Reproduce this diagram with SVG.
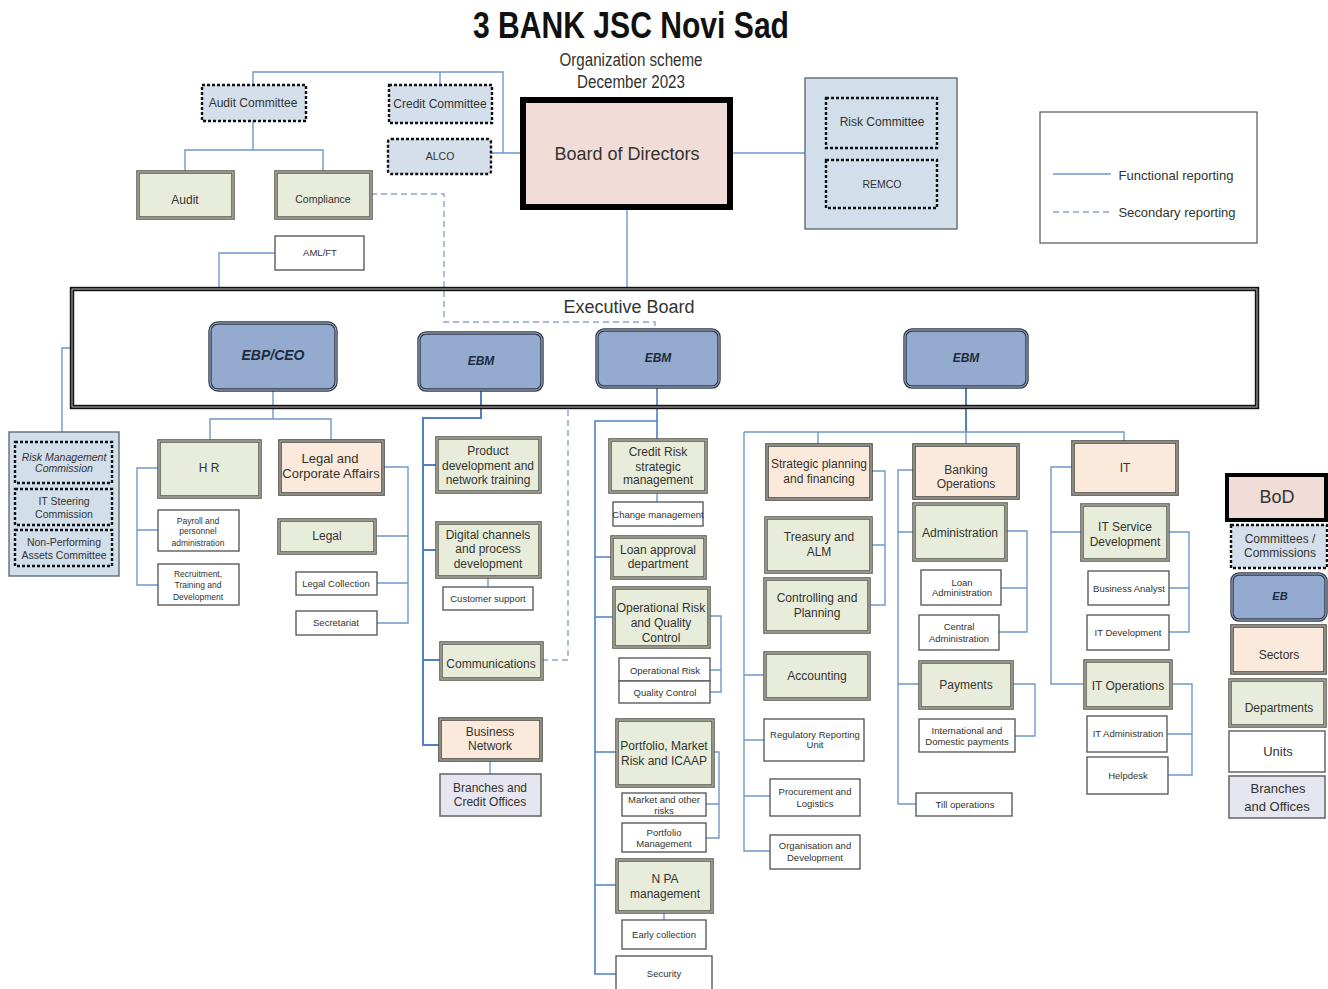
<svg xmlns="http://www.w3.org/2000/svg" width="1328" height="989" viewBox="0 0 1328 989">
<style>
text{font-family:"Liberation Sans",Arial,sans-serif;text-anchor:middle;fill:#33332f}
.c{fill:none;stroke:#6f98cc;stroke-width:1.4}
.ct{stroke-width:2;stroke:#4f80c4}
.s{fill:none;stroke:#8ea3c8;stroke-width:1.4;stroke-dasharray:6 4}
.d{fill:#e8eddb;stroke:#5e5e54;stroke-width:3.6}
.o{fill:#fbe9dc;stroke:#4c4a46;stroke-width:3.6}
.i{fill:none;stroke:#c9cabb;stroke-width:1}
.u{fill:#fff;stroke:#5c5c5c;stroke-width:1.4}
.k{fill:#d5dfec;stroke:#111;stroke-width:2.4;stroke-dasharray:3 2}
.kn{fill:none;stroke:#111;stroke-width:2.4;stroke-dasharray:3 2}
.g{fill:#d3deeb;stroke:#5f6d76;stroke-width:1.4}
.b{fill:#e5e6f0;stroke:#6b6b70;stroke-width:1.6}
.e{fill:#94abcf;stroke:#2f3a4a;stroke-width:3.4}
.ei{fill:none;stroke:#b8c6dc;stroke-width:.9}
.t8{font-size:8.5px}.t9{font-size:9.5px}.t10{font-size:10.5px}.t12{font-size:12px}.t13{font-size:13px}
.em{font-weight:bold;font-style:italic;fill:#1d2b40}
</style>

<text x="631" y="38" font-size="36" font-weight="bold" textLength="316" lengthAdjust="spacingAndGlyphs" style="fill:#111">3 BANK JSC Novi Sad</text>
<text x="631" y="66" font-size="18" textLength="143" lengthAdjust="spacingAndGlyphs">Organization scheme</text>
<text x="631" y="88" font-size="18" textLength="108" lengthAdjust="spacingAndGlyphs">December 2023</text>

<g id="connectors">
<path class="c" d="M253 85V72H503V153M440 72V85M491 153H523M253 121V150M185 171V150H323V171M275 253H219V288M627 208V288M731 153H805M72 348H62V432"/>
<path class="s" d="M371 194H444V322H655V329"/>
<path class="s" d="M542 660H568V407"/>
<path class="c" d="M273 390V419M210 440V419H331V440M159 468H137V585H158M137 530H158M383 467H408V623H377M375 536H408M377 583H408"/>
<path class="c ct" d="M481 390V418H423V745H439M423 465H436M423 550H436M423 660H440"/>
<path class="c" d="M488 577V587M490 760V774"/>
<path class="c ct" style="stroke-width:1.6" d="M657 387V439M657 421H595V974H616M595 557H611M595 617H613M595 752H616M595 885H616"/>
<path class="c" d="M657 492V502M664 912V920M709 616H721V692H710M710 670H721M713 752H719V838H706M706 804H719"/>
<path class="c ct" d="M966 387V432"/>
<path class="c" d="M966 432V445M744 432H1124V441M818 432V444M744 432V851H770M744 675H764M744 740H764M744 796H770M871 471H885V605H869M871 545H885"/>
<path class="c" d="M913 470H898V804H916M898 532H913M898 684H919M1006 531H1027V632H999M1001 588H1027M1012 684H1035V736H1015"/>
<path class="c" d="M1072 467H1051V684H1084M1051 532H1081M1168 532H1189V632H1169M1169 588H1189M1171 684H1192V775H1168M1167 734H1192"/>
</g>

<g id="audit-committee"><rect class="k" x="202" y="85" width="104" height="36"/><text class="t12" x="253" y="107">Audit Committee</text></g>
<g id="credit-committee"><rect class="k" x="389" y="85" width="103" height="38"/><text class="t12" x="440" y="108">Credit Committee</text></g>
<g id="alco"><rect class="k" x="388" y="139" width="103" height="35" rx="3"/><text class="t10" x="440" y="160">ALCO</text></g>
<g id="audit"><rect class="d" x="138" y="172" width="95" height="46"/><rect class="i" x="138" y="172" width="95" height="46"/><text class="t12" x="185" y="204">Audit</text></g>
<g id="compliance"><rect class="d" x="276" y="172" width="95" height="46"/><rect class="i" x="276" y="172" width="95" height="46"/><text class="t10" x="323" y="203">Compliance</text></g>
<g id="amlft"><rect class="u" x="275" y="236" width="89" height="34"/><text class="t9" x="320" y="256">AML/FT</text></g>

<g id="board"><rect x="523" y="100" width="207" height="107" fill="#f1dcd8" stroke="#000" stroke-width="6"/><text x="627" y="160" font-size="18">Board of Directors</text></g>
<g id="risk-group"><rect class="g" x="805" y="78" width="152" height="151"/>
<rect class="kn" x="826" y="98" width="111" height="50"/><text class="t12" x="882" y="126">Risk Committee</text>
<rect class="kn" x="826" y="160" width="111" height="48"/><text class="t10" x="882" y="188">REMCO</text></g>
<g id="key"><rect x="1040" y="112" width="217" height="131" fill="#fff" stroke="#555" stroke-width="1.2"/>
<path class="c" d="M1053 174H1111"/><path class="s" d="M1053 212H1113"/>
<text class="t13" x="1176" y="180">Functional reporting</text><text class="t13" x="1177" y="217">Secondary reporting</text></g>

<g id="executive-board"><rect x="72" y="289" width="1185" height="118" fill="none" stroke="#111" stroke-width="4.4"/><rect x="72" y="289" width="1185" height="118" fill="none" stroke="#bbb" stroke-width="1"/><text x="629" y="313" font-size="18">Executive Board</text></g>
<g id="ebp-ceo"><rect class="e" x="210" y="323" width="126" height="67" rx="8"/><rect class="ei" x="210" y="323" width="126" height="67" rx="8"/><text class="em" x="273" y="360" font-size="14">EBP/CEO</text></g>
<g id="ebm-1"><rect class="e" x="419" y="333" width="123" height="57" rx="7"/><rect class="ei" x="419" y="333" width="123" height="57" rx="7"/><text class="em" x="481" y="365" font-size="12">EBM</text></g>
<g id="ebm-2"><rect class="e" x="597" y="330" width="122" height="57" rx="7"/><rect class="ei" x="597" y="330" width="122" height="57" rx="7"/><text class="em" x="658" y="362" font-size="12">EBM</text></g>
<g id="ebm-3"><rect class="e" x="905" y="330" width="122" height="57" rx="7"/><rect class="ei" x="905" y="330" width="122" height="57" rx="7"/><text class="em" x="966" y="362" font-size="12">EBM</text></g>

<g id="risk-commissions"><rect class="g" x="9" y="432" width="110" height="144"/>
<rect class="kn" x="15" y="442" width="97" height="41"/><text class="t10" x="64" y="461" font-style="italic">Risk Management</text><text class="t10" x="64" y="472" font-style="italic">Commission</text>
<rect class="kn" x="15" y="489" width="97" height="36"/><text class="t10" x="64" y="505">IT Steering</text><text class="t10" x="64" y="518">Commission</text>
<rect class="kn" x="15" y="530" width="97" height="36"/><text class="t10" x="64" y="546">Non-Performing</text><text class="t10" x="64" y="559">Assets Committee</text></g>

<g id="hr"><rect class="d" x="159" y="441" width="101" height="56"/><rect class="i" x="159" y="441" width="101" height="56"/><text class="t12" x="209" y="472">H R</text></g>
<g id="legal-corporate"><rect class="o" x="280" y="441" width="103" height="53"/><rect class="i" x="280" y="441" width="103" height="53"/><text class="t13" x="330" y="463">Legal and</text><text class="t13" x="331" y="478">Corporate Affairs</text></g>
<g id="payroll"><rect class="u" x="158" y="510" width="81" height="41"/><text class="t8" x="198" y="524">Payroll and</text><text class="t8" x="198" y="534">personnel</text><text class="t8" x="198" y="546">administration</text></g>
<g id="recruitment"><rect class="u" x="158" y="564" width="81" height="41"/><text class="t8" x="198" y="577">Recruitment,</text><text class="t8" x="198" y="588">Training and</text><text class="t8" x="198" y="600">Development</text></g>
<g id="legal"><rect class="d" x="279" y="520" width="96" height="33"/><rect class="i" x="279" y="520" width="96" height="33"/><text class="t12" x="327" y="540">Legal</text></g>
<g id="legal-collection"><rect class="u" x="296" y="572" width="81" height="23"/><text class="t9" x="336" y="587">Legal Collection</text></g>
<g id="secretariat"><rect class="u" x="296" y="611" width="81" height="24"/><text class="t9" x="336" y="626">Secretariat</text></g>

<g id="product"><rect class="d" x="437" y="438" width="103" height="54"/><rect class="i" x="437" y="438" width="103" height="54"/><text class="t12" x="488" y="455">Product</text><text class="t12" x="488" y="470">development and</text><text class="t12" x="488" y="484">network training</text></g>
<g id="digital"><rect class="d" x="437" y="523" width="103" height="54"/><rect class="i" x="437" y="523" width="103" height="54"/><text class="t12" x="488" y="539">Digital channels</text><text class="t12" x="488" y="553">and process</text><text class="t12" x="488" y="568">development</text></g>
<g id="customer-support"><rect class="u" x="443" y="587" width="90" height="23"/><text class="t9" x="488" y="602">Customer support</text></g>
<g id="communications"><rect class="d" x="441" y="643" width="101" height="36"/><rect class="i" x="441" y="643" width="101" height="36"/><text class="t12" x="491" y="668">Communications</text></g>
<g id="business-network"><rect class="o" x="440" y="719" width="101" height="41"/><rect class="i" x="440" y="719" width="101" height="41"/><text class="t12" x="490" y="736">Business</text><text class="t12" x="490" y="750">Network</text></g>
<g id="branches-credit"><rect class="b" x="440" y="774" width="101" height="42"/><text class="t12" x="490" y="792">Branches and</text><text class="t12" x="490" y="806">Credit Offices</text></g>

<g id="credit-risk"><rect class="d" x="610" y="440" width="96" height="52"/><rect class="i" x="610" y="440" width="96" height="52"/><text class="t12" x="658" y="456">Credit Risk</text><text class="t12" x="658" y="471">strategic</text><text class="t12" x="658" y="484">management</text></g>
<g id="change-management"><rect class="u" x="613" y="502" width="90" height="24"/><text class="t9" x="658" y="518">Change management</text></g>
<g id="loan-approval"><rect class="d" x="612" y="537" width="93" height="41"/><rect class="i" x="612" y="537" width="93" height="41"/><text class="t12" x="658" y="554">Loan approval</text><text class="t12" x="658" y="568">department</text></g>
<g id="operational-quality"><rect class="d" x="614" y="588" width="95" height="59"/><rect class="i" x="614" y="588" width="95" height="59"/><text class="t12" x="661" y="612">Operational Risk</text><text class="t12" x="661" y="627">and Quality</text><text class="t12" x="661" y="642">Control</text></g>
<g id="operational-risk"><rect class="u" x="619" y="658" width="91" height="23"/><text class="t9" x="665" y="674">Operational Risk</text></g>
<g id="quality-control"><rect class="u" x="619" y="681" width="91" height="22"/><text class="t9" x="665" y="696">Quality Control</text></g>
<g id="portfolio-market"><rect class="d" x="617" y="720" width="96" height="66"/><rect class="i" x="617" y="720" width="96" height="66"/><text class="t12" x="664" y="750">Portfolio, Market</text><text class="t12" x="664" y="765">Risk and ICAAP</text></g>
<g id="market-risks"><rect class="u" x="622" y="793" width="84" height="23"/><text class="t9" x="664" y="803">Market and other</text><text class="t9" x="664" y="814">risks</text></g>
<g id="portfolio-management"><rect class="u" x="622" y="823" width="84" height="29"/><text class="t9" x="664" y="836">Portfolio</text><text class="t9" x="664" y="847">Management</text></g>
<g id="npa"><rect class="d" x="617" y="860" width="95" height="52"/><rect class="i" x="617" y="860" width="95" height="52"/><text class="t12" x="665" y="883">N PA</text><text class="t12" x="665" y="898">management</text></g>
<g id="early-collection"><rect class="u" x="622" y="920" width="84" height="29"/><text class="t9" x="664" y="938">Early collection</text></g>
<g id="security"><rect class="u" x="616" y="956" width="96" height="36"/><text class="t9" x="664" y="977">Security</text></g>

<g id="strategic"><rect class="o" x="767" y="445" width="104" height="54"/><rect class="i" x="767" y="445" width="104" height="54"/><text class="t12" x="819" y="468">Strategic planning</text><text class="t12" x="819" y="483">and financing</text></g>
<g id="treasury"><rect class="d" x="766" y="518" width="105" height="54"/><rect class="i" x="766" y="518" width="105" height="54"/><text class="t12" x="819" y="541">Treasury and</text><text class="t12" x="819" y="556">ALM</text></g>
<g id="controlling"><rect class="d" x="765" y="579" width="104" height="53"/><rect class="i" x="765" y="579" width="104" height="53"/><text class="t12" x="817" y="602">Controlling and</text><text class="t12" x="817" y="617">Planning</text></g>
<g id="accounting"><rect class="d" x="765" y="653" width="104" height="46"/><rect class="i" x="765" y="653" width="104" height="46"/><text class="t12" x="817" y="680">Accounting</text></g>
<g id="regulatory"><rect class="u" x="764" y="719" width="100" height="42"/><text class="t9" x="815" y="738">Regulatory Reporting</text><text class="t9" x="815" y="748">Unit</text></g>
<g id="procurement"><rect class="u" x="770" y="779" width="90" height="37"/><text class="t9" x="815" y="795">Procurement and</text><text class="t9" x="815" y="807">Logistics</text></g>
<g id="organisation"><rect class="u" x="770" y="835" width="90" height="34"/><text class="t9" x="815" y="849">Organisation and</text><text class="t9" x="815" y="861">Development</text></g>

<g id="banking-ops"><rect class="o" x="914" y="445" width="104" height="53"/><rect class="i" x="914" y="445" width="104" height="53"/><text class="t12" x="966" y="474">Banking</text><text class="t12" x="966" y="488">Operations</text></g>
<g id="administration"><rect class="d" x="914" y="504" width="92" height="56"/><rect class="i" x="914" y="504" width="92" height="56"/><text class="t12" x="960" y="537">Administration</text></g>
<g id="loan-admin"><rect class="u" x="921" y="570" width="80" height="35"/><text class="t9" x="962" y="586">Loan</text><text class="t9" x="962" y="596">Administration</text></g>
<g id="central-admin"><rect class="u" x="919" y="615" width="80" height="35"/><text class="t9" x="959" y="630">Central</text><text class="t9" x="959" y="642">Administration</text></g>
<g id="payments"><rect class="d" x="920" y="662" width="92" height="46"/><rect class="i" x="920" y="662" width="92" height="46"/><text class="t12" x="966" y="689">Payments</text></g>
<g id="international"><rect class="u" x="919" y="719" width="96" height="33"/><text class="t9" x="967" y="734">International and</text><text class="t9" x="967" y="745">Domestic payments</text></g>
<g id="till"><rect class="u" x="916" y="793" width="96" height="23"/><text class="t9" x="965" y="808">Till operations</text></g>

<g id="it"><rect class="o" x="1073" y="442" width="104" height="52"/><rect class="i" x="1073" y="442" width="104" height="52"/><text class="t12" x="1125" y="472">IT</text></g>
<g id="it-service"><rect class="d" x="1082" y="505" width="86" height="55"/><rect class="i" x="1082" y="505" width="86" height="55"/><text class="t12" x="1125" y="531">IT Service</text><text class="t12" x="1125" y="546">Development</text></g>
<g id="business-analyst"><rect class="u" x="1088" y="571" width="81" height="34"/><text class="t9" x="1129" y="592">Business Analyst</text></g>
<g id="it-development"><rect class="u" x="1087" y="615" width="82" height="35"/><text class="t9" x="1128" y="636">IT Development</text></g>
<g id="it-operations"><rect class="d" x="1085" y="661" width="86" height="47"/><rect class="i" x="1085" y="661" width="86" height="47"/><text class="t12" x="1128" y="690">IT Operations</text></g>
<g id="it-administration"><rect class="u" x="1087" y="716" width="80" height="36"/><text class="t9" x="1128" y="737">IT Administration</text></g>
<g id="helpdesk"><rect class="u" x="1087" y="757" width="81" height="37"/><text class="t9" x="1128" y="779">Helpdesk</text></g>

<g id="legend-bod"><rect x="1227" y="475" width="99" height="45" fill="#f1dcd8" stroke="#000" stroke-width="4"/><text x="1277" y="503" font-size="18">BoD</text></g>
<g id="legend-committees"><rect class="k" x="1231" y="525" width="96" height="43"/><text class="t12" x="1280" y="543">Committees /</text><text class="t12" x="1280" y="557">Commissions</text></g>
<g id="legend-eb"><rect class="e" x="1232" y="574" width="94" height="46" rx="7"/><rect class="ei" x="1232" y="574" width="94" height="46" rx="7"/><text class="em" x="1280" y="600" font-size="11">EB</text></g>
<g id="legend-sectors"><rect class="o" x="1232" y="626" width="93" height="47"/><rect class="i" x="1232" y="626" width="93" height="47"/><text class="t12" x="1279" y="659">Sectors</text></g>
<g id="legend-departments"><rect class="d" x="1230" y="680" width="95" height="46"/><rect class="i" x="1230" y="680" width="95" height="46"/><text class="t12" x="1279" y="712">Departments</text></g>
<g id="legend-units"><rect class="u" x="1229" y="731" width="96" height="41"/><text class="t13" x="1278" y="756">Units</text></g>
<g id="legend-branches"><rect class="b" x="1229" y="776" width="96" height="42"/><text class="t13" x="1278" y="793">Branches</text><text class="t13" x="1277" y="811">and Offices</text></g>
</svg>
